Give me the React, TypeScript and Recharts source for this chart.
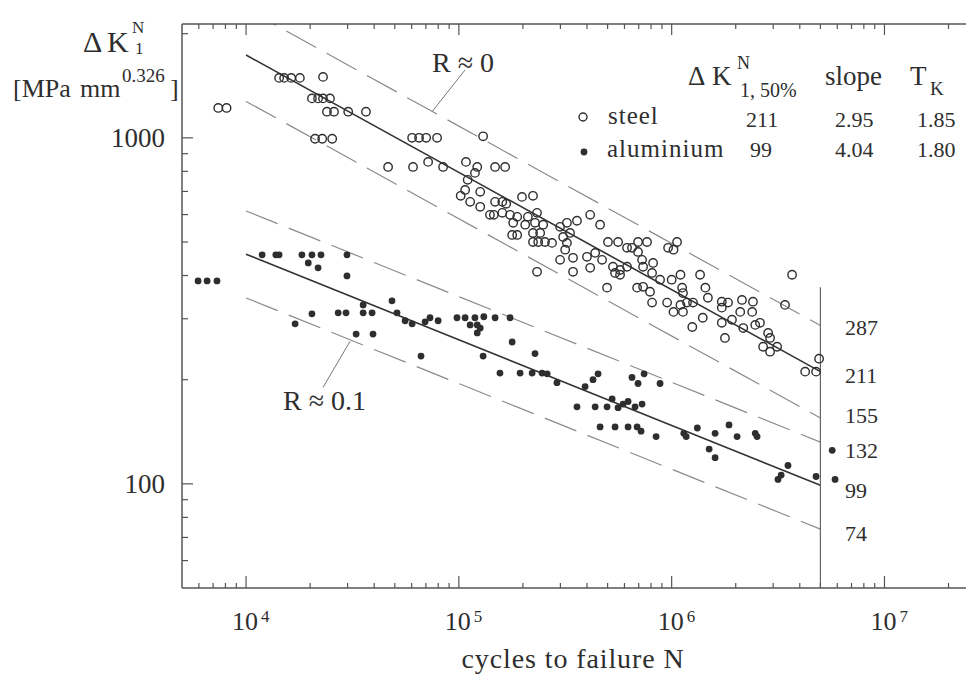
import { ScatterChart, Scatter, XAxis, YAxis, ReferenceLine } from 'recharts'

const FONT = '"Liberation Serif", "Times New Roman", serif'
const INK = '#2e2e2e'
const AXIS = '#555'

// [cycles to failure N, ΔK (MPa mm^0.326)]
const steelPoints: [number, number][] = [
  [7400, 1220], [8100, 1220],
  [14300, 1490], [15100, 1490], [16300, 1490], [17900, 1490], [23000, 1500],
  [20400, 1300], [21800, 1300], [23000, 1300], [24800, 1300],
  [24000, 1190], [25900, 1190], [30200, 1190], [36600, 1190],
  [21100, 994], [22800, 994], [25400, 994],
  [60300, 1000], [65000, 1000], [70200, 1000], [79000, 1000], [130000, 1010],
  [46500, 824], [60900, 824], [71700, 852], [84300, 824], [108000, 852], [122000, 824], [148000, 824], [165000, 824],
  [119000, 792], [110000, 756], [107000, 707], [126000, 698], [102000, 680], [113000, 653], [126000, 632],
  [148000, 653], [160000, 653], [167000, 645], [198000, 675], [223000, 680],
  [140000, 599], [146000, 599], [160000, 607], [174000, 599], [188000, 591], [211000, 591], [233000, 607],
  [180000, 568], [205000, 561], [228000, 568], [249000, 561],
  [178000, 524], [188000, 524], [223000, 531], [241000, 531],
  [223000, 500], [236000, 500], [254000, 500], [274000, 497],
  [299000, 553], [322000, 568], [359000, 576], [414000, 599], [461000, 561],
  [309000, 517], [333000, 531], [322000, 497], [316000, 475], [299000, 444], [344000, 450],
  [233000, 410], [344000, 410], [414000, 421], [400000, 453], [437000, 465], [471000, 444], [497000, 369],
  [502000, 500], [560000, 500], [617000, 481], [651000, 481], [695000, 500], [766000, 500], [695000, 468],
  [726000, 444], [818000, 435],
  [530000, 424], [572000, 415], [542000, 407], [617000, 424], [734000, 424], [572000, 402],
  [688000, 369], [734000, 371], [791000, 359], [882000, 389], [809000, 407],
  [809000, 334], [952000, 334], [1000000, 389], [1100000, 402], [1020000, 314], [1130000, 314], [1100000, 329],
  [1180000, 334], [1260000, 334], [1120000, 369], [1130000, 356],
  [1360000, 402], [1440000, 369], [1480000, 345], [1250000, 284], [1400000, 302],
  [962000, 481], [1020000, 475], [1060000, 500],
  [1720000, 336], [1840000, 334], [1720000, 323], [1780000, 264], [1720000, 292], [1920000, 298],
  [2140000, 340], [2410000, 336], [2100000, 314], [2390000, 314], [2170000, 282], [2470000, 288], [2600000, 292],
  [2840000, 273], [2900000, 264], [2690000, 249], [2900000, 241], [3130000, 249],
  [3680000, 402], [3410000, 329], [4240000, 211], [4770000, 211], [4930000, 230],
]

const aluminiumPoints: [number, number][] = [
  [5950, 386], [6560, 386], [7300, 386],
  [11900, 459], [13800, 459], [14300, 459], [18300, 459], [20400, 459], [22500, 459],
  [19600, 435], [21800, 421], [29800, 459], [29800, 399],
  [17000, 290], [20400, 310], [27100, 312], [29500, 312], [35500, 329], [35500, 312], [39100, 312],
  [32900, 271], [39500, 271],
  [48500, 338], [51200, 312], [55900, 296], [60300, 290], [66400, 234], [69400, 294], [73200, 302], [79900, 296],
  [98000, 302], [107000, 302], [119000, 302], [113000, 288], [122000, 288], [122000, 273], [131000, 304],
  [148000, 302], [174000, 302], [126000, 282],
  [178000, 257], [228000, 238], [130000, 234],
  [156000, 209], [194000, 209], [221000, 209], [246000, 209], [260000, 208], [289000, 196], [392000, 191],
  [427000, 200], [451000, 208],
  [359000, 167], [437000, 167], [497000, 167], [525000, 176], [560000, 166], [591000, 170], [624000, 173],
  [673000, 167], [726000, 170],
  [651000, 203], [695000, 195], [742000, 208], [882000, 195],
  [461000, 146], [542000, 146], [624000, 146], [688000, 146], [718000, 142], [845000, 137],
  [1140000, 140], [1170000, 137], [1320000, 145], [1600000, 140], [1860000, 148], [2030000, 137],
  [2470000, 140], [2520000, 137],
  [1500000, 126], [1600000, 119],
  [3160000, 103], [3270000, 106], [3520000, 113], [4770000, 105], [5680000, 125], [5860000, 103],
]

// fit results from the legend table: ΔK at N = 5·10^6, slope k, scatter band bounds
const fitN = [1e4, 5e6]
const steelFit = { k50: 211, slope: 2.95, band: [287, 155] }
const aluFit = { k50: 99, slope: 4.04, band: [132, 74] }
const bandLabels = ['287', '211', '155', '132', '99', '74']

const xTicks = [
  6000, 7000, 8000, 9000, 1e4, 2e4, 3e4, 4e4, 5e4, 6e4, 7e4, 8e4, 9e4, 1e5,
  2e5, 3e5, 4e5, 5e5, 6e5, 7e5, 8e5, 9e5, 1e6, 2e6, 3e6, 4e6, 5e6, 6e6, 7e6, 8e6, 9e6, 1e7, 2e7,
]
const yTicks = [60, 70, 80, 90, 100, 200, 300, 400, 500, 600, 700, 800, 900, 1000, 2000]

const steelData = steelPoints.map(([n, k]) => ({ n, k }))
const aluData = aluminiumPoints.map(([n, k]) => ({ n, k }))

const isMajor = (v: number) => Math.abs(Math.log10(v) - Math.round(Math.log10(v))) < 1e-6

// line through ΔK(5e6) with slope k, evaluated at both ends
const fitSegment = (k5: number, slope: number) =>
  fitN.map(n => ({ x: n, y: k5 * Math.pow(5e6 / n, 1 / slope) }))

const BottomTick = (p: any) => {
  const v = p.payload.value
  const major = isMajor(v)
  return (
    <g>
      <line x1={p.x} x2={p.x} y1={p.y} y2={p.y - (major ? 12 : 5)} stroke={AXIS} strokeWidth={1.2} />
      {major && (
        <text x={p.x - 14} y={p.y + 42} fontFamily={FONT} fontSize={26} fill={INK}>
          10<tspan dx={3} dy={-8} fontSize={17}>{Math.round(Math.log10(v))}</tspan>
        </text>
      )}
    </g>
  )
}

const TopTick = (p: any) => {
  const major = isMajor(p.payload.value)
  return <line x1={p.x} x2={p.x} y1={p.y} y2={p.y + (major ? 11 : 5)} stroke={AXIS} strokeWidth={1.2} />
}

const LeftTick = (p: any) => {
  const v = p.payload.value
  const major = isMajor(v)
  return (
    <g>
      <line x1={p.x} x2={p.x + (major ? 11 : 6)} y1={p.y} y2={p.y} stroke={AXIS} strokeWidth={1.2} />
      {major && (
        <text x={p.x - 17} y={p.y + 9.5} textAnchor="end" fontFamily={FONT} fontSize={27} fill={INK}>
          {v}
        </text>
      )}
    </g>
  )
}

const OpenCircle = (p: any) => (
  <circle cx={p.cx} cy={p.cy} r={4.2} fill="#fff" fillOpacity={0} stroke={INK} strokeWidth={1.4} />
)
const Dot = (p: any) => <circle cx={p.cx} cy={p.cy} r={3.4} fill={INK} />

const t = { fontFamily: FONT, fill: INK }

export default function App() {
  const dash = '34 12'
  return (
    <div style={{ position: 'relative', width: 966, height: 667, overflow: 'hidden', background: '#fff' }}>
      <ScatterChart width={1000} height={667} margin={{ top: 6, right: 22, bottom: 57, left: 114 }}>
        <XAxis
          dataKey="n" type="number" scale="log" domain={[5000, 3e7]} allowDataOverflow
          ticks={xTicks} interval={0} tick={BottomTick} tickLine={false} tickSize={0} tickMargin={0}
          height={30} axisLine={{ stroke: AXIS, strokeWidth: 1.5 }}
        />
        <XAxis
          xAxisId="top" orientation="top" dataKey="n" type="number" scale="log" domain={[5000, 3e7]}
          allowDataOverflow ticks={xTicks} interval={0} tick={TopTick} tickLine={false} tickSize={0}
          tickMargin={0} height={10} axisLine={{ stroke: AXIS, strokeWidth: 1.5 }}
        />
        <YAxis
          dataKey="k" type="number" scale="log" domain={[50, 2133]} allowDataOverflow
          ticks={yTicks} interval={0} tick={LeftTick} tickLine={false} tickSize={0} tickMargin={0}
          width={60} axisLine={{ stroke: AXIS, strokeWidth: 1.5 }}
        />

        {[steelFit, aluFit].map((f, i) =>
          f.band.map(b => (
            <ReferenceLine
              key={`band-${i}-${b}`} segment={fitSegment(b, f.slope)} ifOverflow="hidden"
              stroke="#8a8a8a" strokeWidth={1.2} strokeDasharray={dash}
            />
          )),
        )}
        {[steelFit, aluFit].map((f, i) => (
          <ReferenceLine
            key={`fit-${i}`} segment={fitSegment(f.k50, f.slope)} ifOverflow="hidden"
            stroke="#333" strokeWidth={1.6}
          />
        ))}
        <ReferenceLine segment={[{ x: 5e6, y: 370 }, { x: 5e6, y: 50 }]} stroke="#666" strokeWidth={1.2} />
        <ReferenceLine segment={[{ x: 107000, y: 1572 }, { x: 74800, y: 1190 }]} stroke="#777" strokeWidth={1} />
        <ReferenceLine segment={[{ x: 23000, y: 190 }, { x: 30800, y: 258 }]} stroke="#777" strokeWidth={1} />

        <Scatter data={steelData} shape={OpenCircle} isAnimationActive={false} />
        <Scatter data={aluData} shape={Dot} isAnimationActive={false} />
      </ScatterChart>

      <svg width={966} height={667} style={{ position: 'absolute', left: 0, top: 0, pointerEvents: 'none' }}>
        {/* y axis title */}
        <text x={75} y={44} fontSize={30} {...t}>Δ</text>
        <text x={99} y={44} fontSize={30} {...t}>K</text>
        <text x={124} y={25} fontSize={17} {...t}>N</text>
        <text x={127} y={46} fontSize={17} {...t}>1</text>
        <text x={5} y={89} fontSize={26} {...t}>[MPa</text>
        <text x={72} y={89} fontSize={26} {...t}>mm</text>
        <text x={114} y={74} fontSize={19} {...t}>0.326</text>
        <text x={162} y={89} fontSize={26} {...t}>]</text>

        {/* x axis title */}
        <text x={565} y={660} textAnchor="middle" fontSize={28} letterSpacing={0.9} {...t}>cycles to failure N</text>

        {/* annotations */}
        <text x={424} y={64} fontSize={28} {...t}>R ≈ 0</text>
        <text x={275} y={402} fontSize={28} {...t}>R ≈ 0.1</text>

        {/* legend table */}
        <text x={680} y={77} fontSize={27} {...t}>Δ</text>
        <text x={704} y={77} fontSize={27} {...t}>K</text>
        <text x={729} y={61} fontSize={18} {...t}>N</text>
        <text x={732} y={89} fontSize={20} {...t}>1, 50%</text>
        <text x={817} y={77} fontSize={27} {...t}>slope</text>
        <text x={902} y={77} fontSize={27} {...t}>T</text>
        <text x={922} y={87} fontSize={19} {...t}>K</text>

        <circle cx={575} cy={109} r={4} fill="none" stroke={INK} strokeWidth={1.4} />
        <text x={600} y={116} fontSize={25} letterSpacing={1} {...t}>steel</text>
        <text x={738} y={119} fontSize={22} {...t}>{steelFit.k50}</text>
        <text x={827} y={119} fontSize={22} {...t}>{steelFit.slope.toFixed(2)}</text>
        <text x={909} y={119} fontSize={22} {...t}>1.85</text>

        <circle cx={576} cy={144} r={3.4} fill={INK} />
        <text x={599} y={149} fontSize={25} letterSpacing={1} {...t}>aluminium</text>
        <text x={742} y={149} fontSize={22} {...t}>{aluFit.k50}</text>
        <text x={827} y={149} fontSize={22} {...t}>{aluFit.slope.toFixed(2)}</text>
        <text x={909} y={149} fontSize={22} {...t}>1.80</text>

        {/* band values at N = 5·10^6 */}
        {bandLabels.map((s, i) => (
          <text key={s} x={837} y={[327, 375, 415, 450, 490, 533][i]} fontSize={22} {...t}>{s}</text>
        ))}
      </svg>
    </div>
  )
}
